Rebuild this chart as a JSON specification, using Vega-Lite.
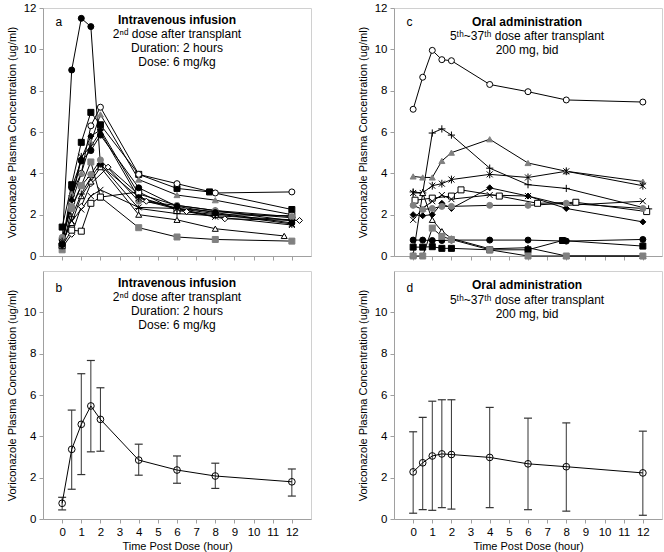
{
  "$schema": "https://vega.github.io/schema/vega-lite/v6.json",
  "padding": {"left": 5, "top": 1, "right": 5, "bottom": 5},
  "background": "white",
  "config": {
    "font": "Liberation Sans",
    "view": {"stroke": "#d0d0d0", "strokeWidth": 1},
    "axis": {
      "grid": false, "domainColor": "#a0a0a0", "tickColor": "#a0a0a0", "tickSize": 4,
      "labelFont": "Liberation Sans", "labelFontSize": 11.5, "labelColor": "#000",
      "titleFont": "Liberation Sans", "titleFontSize": 11, "titleFontWeight": "normal", "titleColor": "#000",
      "labelPadding": 3, "labelFlush": false
    },
    "text": {"font": "Liberation Sans", "fontSize": 12, "color": "#000"}
  },
  "datasets": {
    "a": [
      {"s":"A1","t":0,"c":0.6},{"s":"A1","t":0.5,"c":9.0},{"s":"A1","t":1,"c":11.5},{"s":"A1","t":1.5,"c":11.1},{"s":"A1","t":2,"c":4.4},{"s":"A1","t":4,"c":2.85},{"s":"A1","t":6,"c":2.3},{"s":"A1","t":8,"c":2.15},{"s":"A1","t":12,"c":1.85},
      {"s":"A2","t":0,"c":1.4},{"s":"A2","t":0.5,"c":3.45},{"s":"A2","t":1,"c":5.5},{"s":"A2","t":1.5,"c":6.95},{"s":"A2","t":2,"c":6.35},{"s":"A2","t":4,"c":3.95},{"s":"A2","t":6,"c":3.27},{"s":"A2","t":7.7,"c":3.1},{"s":"A2","t":12,"c":2.25},
      {"s":"A3","t":0,"c":0.8},{"s":"A3","t":0.5,"c":2.6},{"s":"A3","t":1,"c":4.0},{"s":"A3","t":1.5,"c":6.3},{"s":"A3","t":2,"c":7.2},{"s":"A3","t":4,"c":3.95},{"s":"A3","t":6,"c":3.5},{"s":"A3","t":8,"c":3.05},{"s":"A3","t":12,"c":3.1},
      {"s":"A4","t":0,"c":0.5},{"s":"A4","t":0.5,"c":3.0},{"s":"A4","t":1,"c":4.0},{"s":"A4","t":1.5,"c":5.5},{"s":"A4","t":2,"c":6.85},{"s":"A4","t":4,"c":3.7},{"s":"A4","t":6,"c":2.95},{"s":"A4","t":8,"c":2.7},{"s":"A4","t":12,"c":2.0},
      {"s":"A5","t":0,"c":0.6},{"s":"A5","t":0.5,"c":2.7},{"s":"A5","t":1,"c":4.7},{"s":"A5","t":1.5,"c":5.8},{"s":"A5","t":2,"c":6.1},{"s":"A5","t":4,"c":3.0},{"s":"A5","t":6,"c":2.45},{"s":"A5","t":8,"c":2.2},{"s":"A5","t":12,"c":1.7},
      {"s":"A6","t":0,"c":0.4},{"s":"A6","t":0.5,"c":1.05},{"s":"A6","t":1,"c":2.4},{"s":"A6","t":1.5,"c":3.5},{"s":"A6","t":2.4,"c":4.3},{"s":"A6","t":4.4,"c":2.65},{"s":"A6","t":6.5,"c":2.15},{"s":"A6","t":8.5,"c":1.8},{"s":"A6","t":12.4,"c":1.72},
      {"s":"A7","t":0,"c":0.7},{"s":"A7","t":0.5,"c":1.6},{"s":"A7","t":1,"c":2.9},{"s":"A7","t":1.5,"c":3.6},{"s":"A7","t":2,"c":4.3},{"s":"A7","t":4,"c":2.0},{"s":"A7","t":6,"c":1.75},{"s":"A7","t":8,"c":1.32},{"s":"A7","t":11.6,"c":0.97},
      {"s":"A8","t":0,"c":0.3},{"s":"A8","t":0.5,"c":2.3},{"s":"A8","t":1,"c":3.4},{"s":"A8","t":1.5,"c":4.55},{"s":"A8","t":2,"c":2.85},{"s":"A8","t":4,"c":1.37},{"s":"A8","t":6,"c":0.92},{"s":"A8","t":8,"c":0.8},{"s":"A8","t":12,"c":0.72},
      {"s":"A9","t":0,"c":0.5},{"s":"A9","t":0.5,"c":1.25},{"s":"A9","t":1,"c":1.2},{"s":"A9","t":1.5,"c":2.55},{"s":"A9","t":2,"c":2.85},{"s":"A9","t":4,"c":3.1},{"s":"A9","t":6,"c":2.2},{"s":"A9","t":8,"c":2.0},{"s":"A9","t":12,"c":1.95},
      {"s":"A10","t":0,"c":0.6},{"s":"A10","t":0.5,"c":1.7},{"s":"A10","t":1,"c":2.25},{"s":"A10","t":1.5,"c":2.9},{"s":"A10","t":2,"c":3.2},{"s":"A10","t":4,"c":2.35},{"s":"A10","t":6,"c":2.3},{"s":"A10","t":8,"c":1.9},{"s":"A10","t":12,"c":1.5},
      {"s":"A11","t":0,"c":0.5},{"s":"A11","t":0.5,"c":1.9},{"s":"A11","t":1,"c":3.0},{"s":"A11","t":1.5,"c":3.8},{"s":"A11","t":2,"c":4.45},{"s":"A11","t":4,"c":2.3},{"s":"A11","t":6,"c":2.05},{"s":"A11","t":8,"c":1.95},{"s":"A11","t":12,"c":1.75},
      {"s":"A12","t":0,"c":0.9},{"s":"A12","t":0.5,"c":2.4},{"s":"A12","t":1,"c":3.4},{"s":"A12","t":1.5,"c":3.95},{"s":"A12","t":2,"c":4.65},{"s":"A12","t":4,"c":2.65},{"s":"A12","t":6,"c":2.45},{"s":"A12","t":8,"c":2.2},{"s":"A12","t":12,"c":1.9},
      {"s":"A13","t":0,"c":0.7},{"s":"A13","t":0.5,"c":2.8},{"s":"A13","t":1,"c":4.8},{"s":"A13","t":1.5,"c":5.3},{"s":"A13","t":2,"c":6.0},{"s":"A13","t":4,"c":2.8},{"s":"A13","t":6,"c":2.3},{"s":"A13","t":8,"c":2.05},{"s":"A13","t":12,"c":1.55},
      {"s":"A14","t":0,"c":0.55},{"s":"A14","t":0.5,"c":3.3},{"s":"A14","t":1,"c":4.6},{"s":"A14","t":1.5,"c":5.1},{"s":"A14","t":2,"c":5.85},{"s":"A14","t":4,"c":3.3},{"s":"A14","t":6,"c":2.4},{"s":"A14","t":8,"c":2.1},{"s":"A14","t":12,"c":1.6}
    ],
    "c": [
      {"s":"C1","t":0,"c":7.1},{"s":"C1","t":0.5,"c":8.65},{"s":"C1","t":1,"c":9.95},{"s":"C1","t":1.5,"c":9.5},{"s":"C1","t":2,"c":9.45},{"s":"C1","t":4,"c":8.3},{"s":"C1","t":6,"c":7.95},{"s":"C1","t":8,"c":7.55},{"s":"C1","t":12,"c":7.45},
      {"s":"C2","t":0,"c":3.1},{"s":"C2","t":0.5,"c":3.05},{"s":"C2","t":1,"c":5.95},{"s":"C2","t":1.5,"c":6.15},{"s":"C2","t":2,"c":5.85},{"s":"C2","t":4,"c":4.25},{"s":"C2","t":6,"c":3.45},{"s":"C2","t":8,"c":3.27},{"s":"C2","t":12.3,"c":2.28},
      {"s":"C3","t":0,"c":3.85},{"s":"C3","t":0.5,"c":3.8},{"s":"C3","t":1,"c":3.8},{"s":"C3","t":1.5,"c":4.6},{"s":"C3","t":2,"c":5.0},{"s":"C3","t":4,"c":5.65},{"s":"C3","t":6,"c":4.5},{"s":"C3","t":8,"c":4.1},{"s":"C3","t":12,"c":3.6},
      {"s":"C4","t":0,"c":3.05},{"s":"C4","t":0.5,"c":3.05},{"s":"C4","t":1,"c":3.4},{"s":"C4","t":1.5,"c":3.5},{"s":"C4","t":2,"c":3.7},{"s":"C4","t":4,"c":3.95},{"s":"C4","t":6,"c":3.8},{"s":"C4","t":8,"c":4.1},{"s":"C4","t":12,"c":3.4},
      {"s":"C5","t":0.1,"c":2.7},{"s":"C5","t":1,"c":2.8},{"s":"C5","t":2,"c":2.9},{"s":"C5","t":2.5,"c":3.2},{"s":"C5","t":4.5,"c":2.9},{"s":"C5","t":6.5,"c":2.55},{"s":"C5","t":8.5,"c":2.6},{"s":"C5","t":12.2,"c":2.15},
      {"s":"C6","t":0,"c":1.75},{"s":"C6","t":0.5,"c":2.3},{"s":"C6","t":1,"c":2.65},{"s":"C6","t":1.5,"c":2.95},{"s":"C6","t":2,"c":2.75},{"s":"C6","t":4,"c":2.95},{"s":"C6","t":6,"c":2.9},{"s":"C6","t":8,"c":2.45},{"s":"C6","t":12,"c":2.65},
      {"s":"C7","t":0,"c":2.0},{"s":"C7","t":0.5,"c":1.95},{"s":"C7","t":1,"c":2.0},{"s":"C7","t":1.5,"c":2.55},{"s":"C7","t":2,"c":2.3},{"s":"C7","t":4,"c":3.3},{"s":"C7","t":6,"c":2.9},{"s":"C7","t":8,"c":2.3},{"s":"C7","t":12,"c":1.65},
      {"s":"C8","t":0,"c":2.45},{"s":"C8","t":0.5,"c":2.25},{"s":"C8","t":1,"c":2.3},{"s":"C8","t":1.5,"c":2.4},{"s":"C8","t":2,"c":2.4},{"s":"C8","t":4,"c":2.45},{"s":"C8","t":6,"c":2.45},{"s":"C8","t":8,"c":2.55},{"s":"C8","t":12,"c":2.3},
      {"s":"C9","t":0,"c":0.05},{"s":"C9","t":0.5,"c":3.05},{"s":"C9","t":1,"c":1.75},{"s":"C9","t":1.5,"c":1.2},{"s":"C9","t":2,"c":0.85},{"s":"C9","t":4,"c":0.35},{"s":"C9","t":6,"c":0.4},{"s":"C9","t":8,"c":0.0},{"s":"C9","t":12,"c":0.0},
      {"s":"C10","t":0,"c":0.77},{"s":"C10","t":0.5,"c":0.77},{"s":"C10","t":1,"c":0.75},{"s":"C10","t":1.5,"c":0.75},{"s":"C10","t":2,"c":0.77},{"s":"C10","t":4,"c":0.77},{"s":"C10","t":6,"c":0.77},{"s":"C10","t":8,"c":0.72},{"s":"C10","t":12,"c":0.8},
      {"s":"C11","t":0,"c":0.43},{"s":"C11","t":0.5,"c":0.43},{"s":"C11","t":1,"c":0.45},{"s":"C11","t":1.5,"c":0.37},{"s":"C11","t":2,"c":0.37},{"s":"C11","t":4,"c":0.3},{"s":"C11","t":6,"c":0.3},{"s":"C11","t":7.8,"c":0.75},{"s":"C11","t":12,"c":0.48},
      {"s":"C12","t":0,"c":0.0},{"s":"C12","t":0.5,"c":0.0},{"s":"C12","t":1,"c":1.35},{"s":"C12","t":1.5,"c":0.95},{"s":"C12","t":2,"c":0.8},{"s":"C12","t":4,"c":0.3},{"s":"C12","t":6,"c":0.0},{"s":"C12","t":8,"c":0.0},{"s":"C12","t":12,"c":0.0}
    ],
    "b": [
      {"t":0,"mean":0.76,"lo":0.44,"hi":1.05},
      {"t":0.5,"mean":3.37,"lo":1.44,"hi":5.27},
      {"t":1,"mean":4.58,"lo":2.15,"hi":7.03},
      {"t":1.5,"mean":5.47,"lo":3.25,"hi":7.67},
      {"t":2,"mean":4.82,"lo":3.28,"hi":6.35},
      {"t":4,"mean":2.85,"lo":2.12,"hi":3.62},
      {"t":6,"mean":2.37,"lo":1.73,"hi":3.05},
      {"t":8,"mean":2.08,"lo":1.48,"hi":2.7},
      {"t":12,"mean":1.8,"lo":1.11,"hi":2.42}
    ],
    "d": [
      {"t":0,"mean":2.28,"lo":0.28,"hi":4.22},
      {"t":0.5,"mean":2.72,"lo":0.45,"hi":4.92},
      {"t":1,"mean":3.05,"lo":0.42,"hi":5.7},
      {"t":1.5,"mean":3.15,"lo":0.55,"hi":5.77},
      {"t":2,"mean":3.12,"lo":0.48,"hi":5.77},
      {"t":4,"mean":2.98,"lo":0.55,"hi":5.4},
      {"t":6,"mean":2.67,"lo":0.45,"hi":4.88},
      {"t":8,"mean":2.53,"lo":0.38,"hi":4.65},
      {"t":12,"mean":2.23,"lo":0.18,"hi":4.25}
    ]
  },
  "columns": 2,
  "spacing": {"row": 8, "column": 44},
  "resolve": {"scale": {"shape": "independent", "fill": "independent", "stroke": "independent"}},
  "concat": [
    {
      "width": 268, "height": 248,
      "layer": [
        {
          "data": {"name": "a"},
          "mark": {"type": "line", "color": "black", "strokeWidth": 1},
          "encoding": {
            "x": {"field": "t", "type": "quantitative", "scale": {"domain": [-1, 13], "nice": false, "zero": false}, "axis": {"values": [0,1,2,3,4,5,6,7,8,9,10,11,12], "tickCount": 20, "format": "d", "labels": false, "title": null}},
            "y": {"field": "c", "type": "quantitative", "scale": {"domain": [0, 12], "nice": false}, "axis": {"values": [0,2,4,6,8,10,12], "tickCount": 10, "format": "d", "title": "Voriconazole Plasma Concentration (ug/ml)", "titlePadding": 6}},
            "detail": {"field": "s"},
            "order": {"field": "t"}
          }
        },
        {
          "data": {"name": "a"},
          "mark": {"type": "point", "filled": true, "size": 36, "opacity": 1, "strokeWidth": 1},
          "encoding": {
            "x": {"field": "t", "type": "quantitative"},
            "y": {"field": "c", "type": "quantitative"},
            "shape": {"field": "s", "legend": null, "scale": {"domain": ["A1","A2","A3","A4","A5","A6","A7","A8","A9","A10","A11","A12","A13","A14"], "range": ["circle","square","circle","triangle-up","diamond","diamond","triangle-up","square","square","M-1,-1L1,1M-1,1L1,-1","M-1.2,0L1.2,0M0,-1.2L0,1.2","circle","M-1,-1L1,1M-1,1L1,-1M0,-1.3L0,1.3","circle"]}},
            "fill": {"field": "s", "legend": null, "scale": {"domain": ["A1","A2","A3","A4","A5","A6","A7","A8","A9","A10","A11","A12","A13","A14"], "range": ["#000000","#000000","#ffffff","#808080","#000000","#ffffff","#ffffff","#808080","#ffffff","transparent","transparent","#808080","transparent","#000000"]}},
            "stroke": {"field": "s", "legend": null, "scale": {"domain": ["A1","A2","A3","A4","A5","A6","A7","A8","A9","A10","A11","A12","A13","A14"], "range": ["#000000","#000000","#000000","#808080","#000000","#000000","#000000","#808080","#000000","#000000","#000000","#808080","#000000","#000000"]}}
          }
        },
        {"data": {"values": [{}]}, "mark": {"type": "text", "text": "a", "align": "left"}, "encoding": {"x": {"datum": -0.35}, "y": {"datum": 11.3}}},
        {"data": {"values": [{}]}, "mark": {"type": "text", "text": "Intravenous infusion", "fontWeight": "bold"}, "encoding": {"x": {"datum": 6.0}, "y": {"datum": 11.42}}},
        {"data": {"values": [{}]}, "mark": {"type": "text", "text": ["2ⁿᵈ dose after transplant", "Duration: 2 hours", "Dose: 6 mg/kg"], "lineHeight": 14}, "encoding": {"x": {"datum": 6.0}, "y": {"datum": 10.74}}}
      ]
    },
    {
      "width": 268, "height": 248,
      "layer": [
        {
          "data": {"name": "c"},
          "mark": {"type": "line", "color": "black", "strokeWidth": 1},
          "encoding": {
            "x": {"field": "t", "type": "quantitative", "scale": {"domain": [-1, 13], "nice": false, "zero": false}, "axis": {"values": [0,1,2,3,4,5,6,7,8,9,10,11,12], "tickCount": 20, "format": "d", "labels": false, "title": null}},
            "y": {"field": "c", "type": "quantitative", "scale": {"domain": [0, 12], "nice": false}, "axis": {"values": [0,2,4,6,8,10,12], "tickCount": 10, "format": "d", "title": "Voriconazole Plasma Concentration (ug/ml)", "titlePadding": 6}},
            "detail": {"field": "s"},
            "order": {"field": "t"}
          }
        },
        {
          "data": {"name": "c"},
          "mark": {"type": "point", "filled": true, "size": 36, "opacity": 1, "strokeWidth": 1},
          "encoding": {
            "x": {"field": "t", "type": "quantitative"},
            "y": {"field": "c", "type": "quantitative"},
            "shape": {"field": "s", "legend": null, "scale": {"domain": ["C1","C2","C3","C4","C5","C6","C7","C8","C9","C10","C11","C12"], "range": ["circle","M-1.2,0L1.2,0M0,-1.2L0,1.2","triangle-up","M-1,-1L1,1M-1,1L1,-1M0,-1.3L0,1.3","square","M-1,-1L1,1M-1,1L1,-1","diamond","circle","triangle-up","circle","square","square"]}},
            "fill": {"field": "s", "legend": null, "scale": {"domain": ["C1","C2","C3","C4","C5","C6","C7","C8","C9","C10","C11","C12"], "range": ["#ffffff","transparent","#808080","transparent","#ffffff","transparent","#000000","#808080","#ffffff","#000000","#000000","#808080"]}},
            "stroke": {"field": "s", "legend": null, "scale": {"domain": ["C1","C2","C3","C4","C5","C6","C7","C8","C9","C10","C11","C12"], "range": ["#000000","#000000","#808080","#000000","#000000","#000000","#000000","#808080","#000000","#000000","#000000","#808080"]}}
          }
        },
        {"data": {"values": [{}]}, "mark": {"type": "text", "text": "c", "align": "left"}, "encoding": {"x": {"datum": -0.35}, "y": {"datum": 11.3}}},
        {"data": {"values": [{}]}, "mark": {"type": "text", "text": "Oral administration", "fontWeight": "bold"}, "encoding": {"x": {"datum": 5.95}, "y": {"datum": 11.33}}},
        {"data": {"values": [{}]}, "mark": {"type": "text", "text": ["5ᵗʰ~37ᵗʰ dose after transplant", "200 mg, bid"], "lineHeight": 14}, "encoding": {"x": {"datum": 5.95}, "y": {"datum": 10.65}}}
      ]
    },
    {
      "width": 268, "height": 248,
      "layer": [
        {
          "data": {"name": "b"},
          "mark": {"type": "rule", "color": "#333333", "strokeWidth": 1},
          "encoding": {
            "x": {"field": "t", "type": "quantitative", "scale": {"domain": [-1, 13], "nice": false, "zero": false}, "axis": {"values": [0,1,2,3,4,5,6,7,8,9,10,11,12], "tickCount": 20, "format": "d", "labelOverlap": false, "title": "Time Post Dose (hour)", "titlePadding": 3}},
            "y": {"field": "lo", "type": "quantitative", "scale": {"domain": [0, 12], "nice": false}, "axis": {"values": [0,2,4,6,8,10], "tickCount": 10, "format": "d", "title": "Voriconazole Plasma Concentration (ug/ml)", "titlePadding": 6}},
            "y2": {"field": "hi"}
          }
        },
        {
          "data": {"name": "b"},
          "mark": {"type": "tick", "orient": "horizontal", "size": 8, "thickness": 1.2, "color": "#333333", "opacity": 1},
          "encoding": {"x": {"field": "t", "type": "quantitative"}, "y": {"field": "lo", "type": "quantitative"}}
        },
        {
          "data": {"name": "b"},
          "mark": {"type": "tick", "orient": "horizontal", "size": 8, "thickness": 1.2, "color": "#333333", "opacity": 1},
          "encoding": {"x": {"field": "t", "type": "quantitative"}, "y": {"field": "hi", "type": "quantitative"}}
        },
        {
          "data": {"name": "b"},
          "mark": {"type": "line", "color": "black", "strokeWidth": 1},
          "encoding": {"x": {"field": "t", "type": "quantitative"}, "y": {"field": "mean", "type": "quantitative"}}
        },
        {
          "data": {"name": "b"},
          "mark": {"type": "point", "shape": "circle", "filled": false, "size": 45, "color": "black", "strokeWidth": 1, "opacity": 1},
          "encoding": {"x": {"field": "t", "type": "quantitative"}, "y": {"field": "mean", "type": "quantitative"}}
        },
        {"data": {"values": [{}]}, "mark": {"type": "text", "text": "b", "align": "left"}, "encoding": {"x": {"datum": -0.35}, "y": {"datum": 11.2}}},
        {"data": {"values": [{}]}, "mark": {"type": "text", "text": "Intravenous infusion", "fontWeight": "bold"}, "encoding": {"x": {"datum": 6.0}, "y": {"datum": 11.4}}},
        {"data": {"values": [{}]}, "mark": {"type": "text", "text": ["2ⁿᵈ dose after transplant", "Duration: 2 hours", "Dose: 6 mg/kg"], "lineHeight": 14}, "encoding": {"x": {"datum": 6.0}, "y": {"datum": 10.72}}}
      ]
    },
    {
      "width": 268, "height": 248,
      "layer": [
        {
          "data": {"name": "d"},
          "mark": {"type": "rule", "color": "#333333", "strokeWidth": 1},
          "encoding": {
            "x": {"field": "t", "type": "quantitative", "scale": {"domain": [-1, 13], "nice": false, "zero": false}, "axis": {"values": [0,1,2,3,4,5,6,7,8,9,10,11,12], "tickCount": 20, "format": "d", "labelOverlap": false, "title": "Time Post Dose (hour)", "titlePadding": 3}},
            "y": {"field": "lo", "type": "quantitative", "scale": {"domain": [0, 12], "nice": false}, "axis": {"values": [0,2,4,6,8,10], "tickCount": 10, "format": "d", "title": "Voriconazole Plasma Concentration (ug/ml)", "titlePadding": 6}},
            "y2": {"field": "hi"}
          }
        },
        {
          "data": {"name": "d"},
          "mark": {"type": "tick", "orient": "horizontal", "size": 8, "thickness": 1.2, "color": "#333333", "opacity": 1},
          "encoding": {"x": {"field": "t", "type": "quantitative"}, "y": {"field": "lo", "type": "quantitative"}}
        },
        {
          "data": {"name": "d"},
          "mark": {"type": "tick", "orient": "horizontal", "size": 8, "thickness": 1.2, "color": "#333333", "opacity": 1},
          "encoding": {"x": {"field": "t", "type": "quantitative"}, "y": {"field": "hi", "type": "quantitative"}}
        },
        {
          "data": {"name": "d"},
          "mark": {"type": "line", "color": "black", "strokeWidth": 1},
          "encoding": {"x": {"field": "t", "type": "quantitative"}, "y": {"field": "mean", "type": "quantitative"}}
        },
        {
          "data": {"name": "d"},
          "mark": {"type": "point", "shape": "circle", "filled": false, "size": 45, "color": "black", "strokeWidth": 1, "opacity": 1},
          "encoding": {"x": {"field": "t", "type": "quantitative"}, "y": {"field": "mean", "type": "quantitative"}}
        },
        {"data": {"values": [{}]}, "mark": {"type": "text", "text": "d", "align": "left"}, "encoding": {"x": {"datum": -0.35}, "y": {"datum": 11.2}}},
        {"data": {"values": [{}]}, "mark": {"type": "text", "text": "Oral administration", "fontWeight": "bold"}, "encoding": {"x": {"datum": 5.95}, "y": {"datum": 11.3}}},
        {"data": {"values": [{}]}, "mark": {"type": "text", "text": ["5ᵗʰ~37ᵗʰ dose after transplant", "200 mg, bid"], "lineHeight": 14}, "encoding": {"x": {"datum": 5.95}, "y": {"datum": 10.62}}}
      ]
    }
  ]
}
